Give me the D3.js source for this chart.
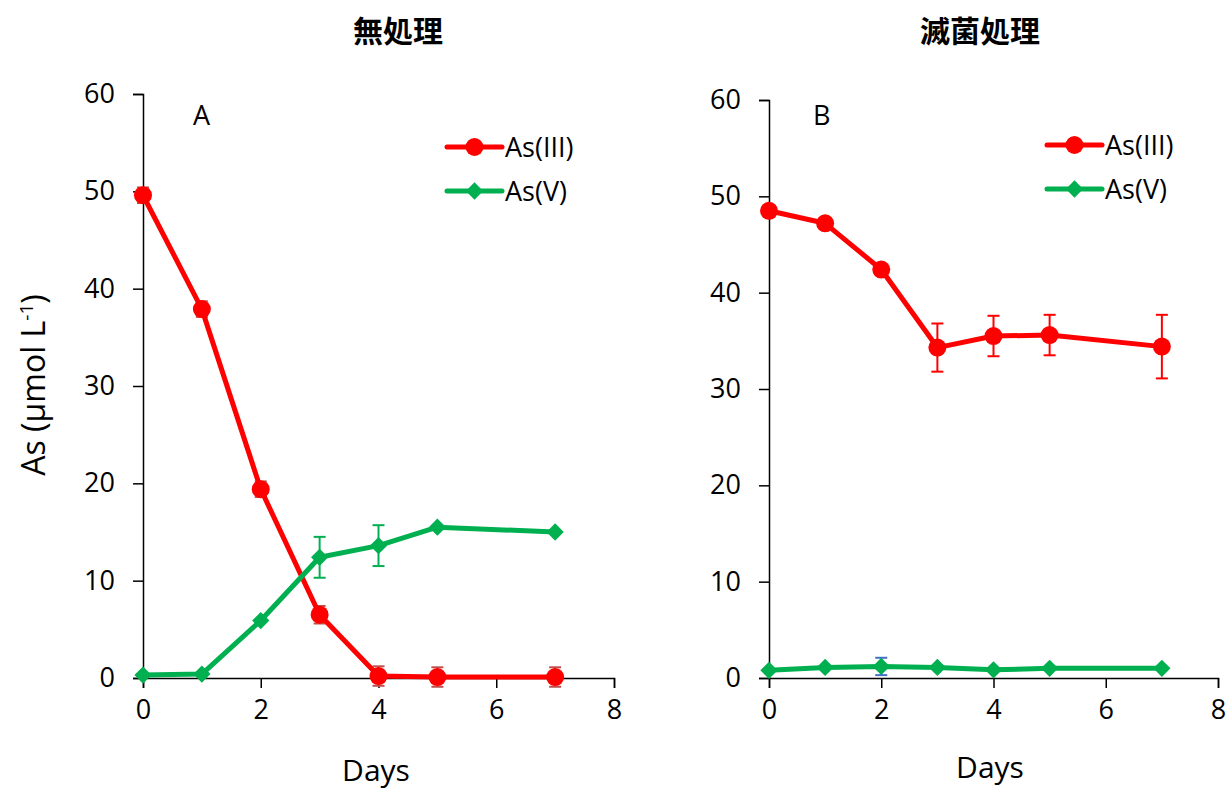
<!DOCTYPE html>
<html>
<head>
<meta charset="utf-8">
<script src="https://cdn.jsdelivr.net/npm/d3@7"></script>
<style>
  body { margin: 0; background: #fff; }
  text { font-family: "Open Sans", "Noto Sans CJK JP", sans-serif; fill: #000; }
</style>
</head>
<body>
<svg id="chart" width="1229" height="791"></svg>
<script>
// days sampled
var days = [0, 1, 2, 3, 4, 5, 7];
var xTicks = [0, 2, 4, 6, 8];
var yTicks = [0, 10, 20, 30, 40, 50, 60];

// panel A: untreated
var a_as3 = [49.6, 37.9, 19.4, 6.5, 0.2, 0.1, 0.1];
var a_as3_err = [0.8, 0.8, 0.8, 0.9, 1.0, 1.0, 1.0];
var a_as5 = [0.3, 0.4, 5.9, 12.4, 13.6, 15.5, 15.0];
var a_as5_err = [0, 0, 0, 2.1, 2.1, 0, 0];

// panel B: sterilised
var b_as3 = [48.5, 47.2, 42.4, 34.3, 35.5, 35.6, 34.4];
var b_as3_err = [0, 0, 0, 2.5, 2.1, 2.1, 3.3];
var b_as5 = [0.8, 1.1, 1.2, 1.1, 0.85, 1.0, 1.0];
var b_as5_err = [0, 0, 0.9, 0, 0, 0, 0];

var seriesNames = ["As(III)", "As(V)"];

var RED = "#ff0000";
var GREEN = "#00b050";

var svg = d3.select("#chart");

function drawPanel(p) {
  var x = d3.scaleLinear().domain([0, 8]).range([p.left, p.right]);
  var y = d3.scaleLinear().domain([0, 60]).range([p.bottom, p.top]);

  var g = svg.append("g");

  // axes
  g.append("g")
    .attr("transform", "translate(0," + p.bottom + ")")
    .call(d3.axisBottom(x).tickValues(xTicks).tickSize(10).tickPadding(12))
    .call(function (s) {
      s.select(".domain").attr("stroke", "#000").attr("stroke-width", 1.5);
      s.selectAll(".tick line").attr("stroke", "#000").attr("stroke-width", 1.5);
      s.selectAll("text").style("font-size", "27px");
    });

  g.append("g")
    .attr("transform", "translate(" + p.left + ",0)")
    .call(d3.axisLeft(y).tickValues(yTicks).tickSize(10).tickPadding(18))
    .call(function (s) {
      s.select(".domain").attr("stroke", "#000").attr("stroke-width", 1.5);
      s.selectAll(".tick line").attr("stroke", "#000").attr("stroke-width", 1.5);
      s.selectAll("text").style("font-size", "27px");
    });

  var line = d3.line()
    .x(function (d, i) { return x(days[i]); })
    .y(function (d) { return y(d); });

  // error bars first, then lines and markers
  function errorBars(vals, errs, color) {
    var eb = g.append("g");
    vals.forEach(function (v, i) {
      if (!errs[i]) return;
      var cx = x(days[i]);
      eb.append("line").attr("x1", cx).attr("x2", cx)
        .attr("y1", y(v - errs[i])).attr("y2", y(v + errs[i]))
        .attr("stroke", color).attr("stroke-width", 2);
      [v - errs[i], v + errs[i]].forEach(function (e) {
        eb.append("line").attr("x1", cx - 6).attr("x2", cx + 6)
          .attr("y1", y(e)).attr("y2", y(e))
          .attr("stroke", color).attr("stroke-width", 2);
      });
    });
  }

  errorBars(p.as3, p.as3Err, p.as3ErrColor);
  errorBars(p.as5, p.as5Err, p.as5ErrColor);

  g.append("path").datum(p.as3).attr("d", line)
    .attr("fill", "none").attr("stroke", RED).attr("stroke-width", 5)
    .attr("stroke-linejoin", "round");
  g.append("path").datum(p.as5).attr("d", line)
    .attr("fill", "none").attr("stroke", GREEN).attr("stroke-width", 5)
    .attr("stroke-linejoin", "round");

  var diamond = d3.symbol().type(d3.symbolDiamond2).size(190);

  g.selectAll(".m3").data(p.as3).enter().append("circle")
    .attr("cx", function (d, i) { return x(days[i]); })
    .attr("cy", function (d) { return y(d); })
    .attr("r", 9).attr("fill", RED);

  g.selectAll(".m5").data(p.as5).enter().append("path")
    .attr("d", diamond)
    .attr("transform", function (d, i) { return "translate(" + x(days[i]) + "," + y(d) + ")"; })
    .attr("fill", GREEN);

  // legend
  var lg = g.append("g").attr("transform", "translate(" + p.legendX + "," + p.legendY + ")");
  [RED, GREEN].forEach(function (c, i) {
    var ly = i * 44;
    lg.append("line").attr("x1", 0).attr("x2", 55).attr("y1", ly).attr("y2", ly)
      .attr("stroke", c).attr("stroke-width", 5).attr("stroke-linecap", "round");
    if (i === 0) {
      lg.append("circle").attr("cx", 27.5).attr("cy", ly).attr("r", 9).attr("fill", c);
    } else {
      lg.append("path").attr("d", diamond).attr("transform", "translate(27.5," + ly + ")").attr("fill", c);
    }
    lg.append("text").attr("x", 58).attr("y", ly + 10).style("font-size", "27px").text(seriesNames[i]);
  });

  // panel letter, title, x label
  g.append("text").attr("x", p.letterX).attr("y", 125).style("font-size", "27px").text(p.letter);
  g.append("text").attr("x", p.titleX).attr("y", 42).attr("text-anchor", "middle")
    .style("font-size", "30px").style("font-weight", "bold").text(p.title);
  g.append("text").attr("x", p.daysX).attr("y", p.daysY).attr("text-anchor", "middle")
    .style("font-size", "30px").text("Days");
}

drawPanel({
  left: 143, right: 614, top: 94, bottom: 678,
  as3: a_as3, as3Err: a_as3_err, as3ErrColor: "#c0504d",
  as5: a_as5, as5Err: a_as5_err, as5ErrColor: GREEN,
  legendX: 447, legendY: 147,
  letter: "A", letterX: 193,
  title: "無処理", titleX: 398,
  daysX: 376, daysY: 781
});

drawPanel({
  left: 769, right: 1218, top: 100, bottom: 678,
  as3: b_as3, as3Err: b_as3_err, as3ErrColor: RED,
  as5: b_as5, as5Err: b_as5_err, as5ErrColor: "#4472c4",
  legendX: 1047, legendY: 145,
  letter: "B", letterX: 813,
  title: "滅菌処理", titleX: 980,
  daysX: 990, daysY: 778
});

// shared y label
var yl = svg.append("text")
  .attr("transform", "translate(45,385) rotate(-90)")
  .attr("text-anchor", "middle")
  .style("font-size", "32px");
yl.append("tspan").text("As (μmol L");
yl.append("tspan").attr("dy", -12).style("font-size", "19px").text("-1");
yl.append("tspan").attr("dy", 12).text(")");
</script>
</body>
</html>
